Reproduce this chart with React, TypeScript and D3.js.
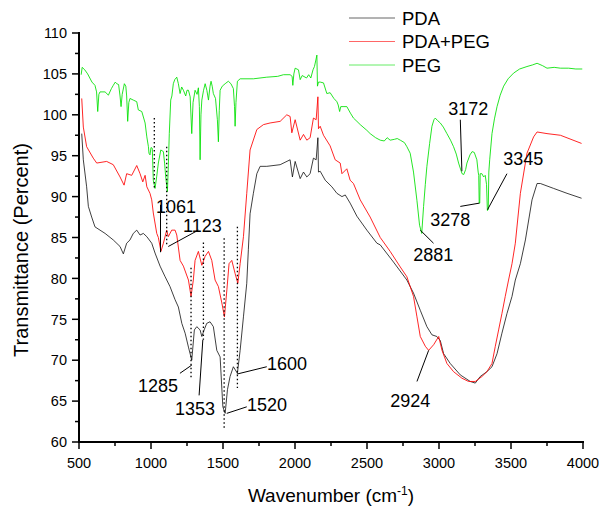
import React, { useEffect, useRef } from "react";
import * as d3 from "d3";

const xTicks = [500, 1000, 1500, 2000, 2500, 3000, 3500, 4000];
const yTicks = [60, 65, 70, 75, 80, 85, 90, 95, 100, 105, 110];
const seriesNames = ["PDA", "PDA+PEG", "PEG"];

const pda: [number, number][] = [
  [519, 97.7], [530, 94.5], [553, 91.2], [565, 88.8], [588, 87.5], [611, 86.3], [681, 85.5], [738, 84.7],
  [785, 83.9], [808, 83.0], [831, 84.3], [854, 84.7], [877, 85.5], [901, 85.9], [924, 85.3], [947, 85.5],
  [971, 85.1], [1005, 84.3], [1028, 83.1], [1063, 81.5], [1098, 80.2], [1132, 79.0], [1167, 77.4],
  [1190, 76.5], [1214, 74.5], [1237, 73.3], [1260, 71.6], [1283, 70.0], [1301, 73.7], [1318, 74.1],
  [1341, 73.7], [1353, 72.9], [1369, 73.7], [1387, 74.5], [1410, 74.7], [1433, 74.1], [1457, 71.2],
  [1480, 70.4], [1499, 64.3], [1515, 63.5], [1531, 66.4], [1549, 68.0], [1572, 69.2], [1600, 68.4],
  [1619, 71.2], [1642, 75.3], [1665, 79.4], [1676, 83.5], [1688, 87.9], [1711, 90.4], [1735, 92.8],
  [1758, 93.7], [1804, 93.7], [1897, 93.9], [1966, 94.5], [1982, 92.4], [2001, 94.3], [2036, 92.2],
  [2059, 93.0], [2082, 92.4], [2105, 92.8], [2128, 94.7], [2147, 94.5], [2159, 97.2], [2163, 93.0],
  [2175, 93.1], [2210, 92.0], [2256, 91.2], [2291, 90.4], [2326, 90.0], [2349, 90.2], [2383, 89.2],
  [2430, 87.6], [2499, 85.9], [2569, 84.3], [2592, 84.1], [2684, 82.0], [2777, 79.8], [2823, 78.2],
  [2870, 76.1], [2916, 74.1], [2951, 73.1], [2985, 72.9], [3009, 72.4], [3032, 70.8], [3078, 69.6],
  [3148, 68.2], [3217, 67.4], [3252, 67.2], [3286, 68.0], [3333, 68.6], [3368, 69.2], [3403, 70.8],
  [3437, 73.3], [3472, 75.7], [3507, 77.8], [3530, 79.8], [3565, 81.8], [3600, 84.7], [3646, 89.6],
  [3681, 91.6], [3704, 91.6], [3796, 91.0], [3889, 90.4], [3990, 89.8],
];

const pdaPeg: [number, number][] = [
  [519, 102.0], [530, 98.5], [553, 96.1], [599, 94.7], [623, 94.1], [692, 94.3], [738, 93.9], [785, 92.4],
  [813, 91.4], [831, 92.8], [866, 92.6], [901, 93.8], [924, 92.8], [943, 91.8], [959, 92.6], [971, 91.2],
  [993, 90.4], [1005, 89.6], [1016, 88.0], [1040, 85.5], [1051, 85.0], [1069, 83.3], [1086, 84.3],
  [1109, 85.9], [1120, 85.1], [1144, 85.9], [1167, 85.9], [1179, 85.3], [1202, 82.2], [1225, 81.5],
  [1260, 79.8], [1278, 77.8], [1294, 79.8], [1306, 82.2], [1329, 83.3], [1353, 81.6], [1376, 82.7],
  [1399, 83.3], [1422, 82.2], [1445, 79.8], [1468, 79.0], [1492, 77.0], [1510, 75.3], [1527, 78.6],
  [1542, 81.8], [1561, 82.2], [1584, 80.6], [1603, 79.4], [1619, 81.8], [1642, 85.1], [1665, 90.4],
  [1688, 95.7], [1735, 98.2], [1781, 98.8], [1827, 99.0], [1897, 99.2], [1943, 100.0], [1966, 99.8],
  [1978, 97.8], [2001, 99.4], [2036, 96.9], [2059, 97.6], [2082, 96.9], [2105, 97.2], [2128, 99.6],
  [2147, 99.4], [2159, 102.2], [2163, 98.3], [2175, 98.6], [2198, 97.5], [2244, 96.2], [2279, 94.5],
  [2314, 94.1], [2326, 92.8], [2360, 93.4], [2383, 92.0], [2406, 91.6], [2453, 89.6], [2522, 87.5],
  [2592, 85.0], [2661, 83.3], [2731, 81.4], [2777, 80.2], [2823, 77.8], [2847, 75.3], [2870, 72.9],
  [2905, 71.7], [2928, 71.2], [2963, 71.9], [2998, 72.9], [3021, 71.2], [3055, 69.6], [3101, 68.6],
  [3159, 67.8], [3205, 67.4], [3252, 67.4], [3298, 68.0], [3333, 68.6], [3368, 69.6], [3391, 71.7],
  [3414, 73.7], [3437, 75.7], [3460, 77.8], [3483, 79.8], [3507, 81.8], [3530, 84.3], [3565, 90.4],
  [3611, 95.3], [3657, 97.3], [3681, 97.9], [3750, 97.7], [3843, 97.5], [3990, 96.5],
];

const peg: [number, number][] = [
  [515, 104.9], [522, 105.8], [540, 105.5], [560, 105.0], [590, 104.0], [611, 103.6], [622, 102.8],
  [630, 100.4], [638, 102.5], [646, 102.8], [681, 102.8], [704, 102.4], [725, 103.2], [738, 103.6],
  [752, 104.0], [762, 103.8], [775, 103.7], [785, 102.3], [792, 101.0], [800, 102.5], [815, 103.8],
  [825, 103.5], [831, 102.3], [838, 99.2], [846, 101.5], [854, 102.0], [877, 101.8], [901, 101.6],
  [912, 100.6], [936, 100.4], [959, 99.0], [971, 97.3], [982, 96.1], [986, 95.3], [993, 95.1],
  [1000, 96.0], [1009, 95.9], [1016, 92.0], [1028, 91.0], [1040, 92.5], [1051, 94.1], [1068, 95.7],
  [1086, 95.5], [1095, 94.0], [1102, 92.4], [1114, 90.6], [1120, 93.5], [1127, 97.7], [1137, 101.8],
  [1145, 102.3], [1155, 103.8], [1165, 104.3], [1179, 104.6], [1190, 103.8], [1202, 102.6],
  [1213, 103.4], [1225, 103.0], [1241, 102.3], [1250, 103.0], [1260, 103.0], [1272, 102.2],
  [1283, 97.7], [1292, 101.5], [1306, 103.0], [1320, 102.5], [1329, 103.3], [1336, 101.0],
  [1341, 94.5], [1347, 100.0], [1353, 101.8], [1365, 103.0], [1376, 103.8], [1388, 103.0],
  [1399, 101.8], [1410, 103.5], [1417, 104.1], [1425, 103.5], [1433, 102.6], [1448, 102.0],
  [1461, 99.4], [1468, 96.7], [1474, 100.5], [1480, 103.0], [1495, 103.5], [1515, 103.8],
  [1537, 104.1], [1555, 103.8], [1572, 103.2], [1580, 101.0], [1584, 98.6], [1590, 101.5],
  [1600, 104.1], [1619, 104.4], [1711, 104.4], [1804, 104.6], [1880, 104.7], [1920, 104.9],
  [1966, 104.9], [1980, 104.7], [1985, 103.6], [1992, 105.0], [2001, 105.7], [2024, 105.5],
  [2036, 104.3], [2050, 104.8], [2080, 104.5], [2095, 104.9], [2110, 104.5], [2125, 105.5],
  [2135, 105.9], [2145, 106.7], [2152, 107.3], [2156, 103.5], [2163, 104.0], [2175, 104.0],
  [2198, 103.9], [2221, 102.6], [2244, 102.7], [2270, 102.0], [2291, 101.6], [2300, 101.2],
  [2310, 100.4], [2318, 101.0], [2340, 101.0], [2360, 101.0], [2385, 100.2], [2406, 99.6],
  [2430, 99.2], [2453, 98.8], [2499, 98.1], [2522, 97.7], [2560, 97.2], [2592, 96.9], [2620, 96.8],
  [2640, 97.2], [2661, 96.9], [2690, 97.0], [2710, 97.1], [2731, 96.9], [2760, 96.6], [2777, 96.1],
  [2800, 95.3], [2823, 93.0], [2847, 89.5], [2865, 86.5], [2880, 85.5], [2893, 88.8], [2905, 91.5],
  [2916, 93.7], [2935, 96.5], [2951, 98.6], [2965, 99.4], [2974, 99.6], [2990, 99.3], [3009, 99.0],
  [3030, 98.5], [3055, 97.7], [3080, 96.9], [3101, 96.1], [3120, 95.2], [3136, 94.1], [3160, 92.8],
  [3172, 92.7], [3185, 93.3], [3194, 94.1], [3215, 95.1], [3230, 95.5], [3245, 95.4], [3263, 94.5],
  [3272, 93.0], [3276, 92.6], [3279, 89.2], [3283, 89.2], [3286, 92.8], [3298, 92.8], [3310, 92.4],
  [3321, 92.6], [3330, 91.5], [3336, 88.3], [3342, 88.4], [3346, 93.0], [3352, 94.5], [3368, 97.7],
  [3385, 99.5], [3403, 101.0], [3425, 102.4], [3449, 103.5], [3480, 104.4], [3518, 105.1],
  [3560, 105.6], [3611, 105.9], [3650, 106.1], [3681, 106.3], [3720, 106.0], [3750, 105.7],
  [3800, 105.8], [3843, 105.7], [3900, 105.7], [3950, 105.6], [3995, 105.6],
];

// dotted guide lines: wavenumber, top, bottom (Transmittance)
const guideX = [1023, 1109, 1278, 1364, 1508, 1600];
const guideTop = [99.6, 96.1, 81.3, 84.4, 84.9, 86.3];
const guideBottom = [90.8, 84.0, 67.9, 72.5, 61.5, 66.6];

// peak labels and leader lines (data coordinates)
const peakLabels = ["1061", "1123", "1285", "1353", "1520", "1600", "2881", "2924", "3172", "3278", "3345"];
const labelPos: [number, number][] = [
  [1035, 88.0], [1223, 85.7], [1188, 66.1], [1167, 63.3], [1667, 63.8], [1806, 68.8],
  [2821, 82.1], [2661, 64.3], [3064, 100.0], [2939, 86.4], [3446, 93.9],
];
const labelAnchor = ["start", "start", "end", "start", "start", "start", "start", "start", "start", "start", "start"];
const leaderFrom: [number, number][] = [
  [1066, 83.2], [1120, 83.9], [1283, 69.4], [1360, 72.5], [1526, 63.5], [1596, 68.3],
  [2870, 85.9], [2928, 71.2], [3159, 93.1], [3280, 89.2], [3337, 88.4],
];
const leaderTo: [number, number][] = [
  [1066, 89.0], [1329, 85.9], [1201, 68.4], [1334, 65.7], [1665, 64.3], [1804, 69.2],
  [2962, 84.3], [2847, 67.4], [3148, 99.4], [3148, 88.8], [3472, 92.8],
];

const colors = ["#000000", "#ff0000", "#00e000"];
const FONT = "'Liberation Sans', Arial, sans-serif";

export default function App() {
  const ref = useRef<SVGSVGElement | null>(null);

  useEffect(() => {
    document.body.style.margin = "0";
    const svg = d3.select(ref.current);
    svg.selectAll("*").remove();

    const x = d3.scaleLinear().domain([500, 4000]).range([79, 583]);
    const y = d3.scaleLinear().domain([60, 110]).range([442, 33]);

    const g = svg.append("g");

    // series
    const line = d3
      .line<[number, number]>()
      .x((d) => x(d[0]))
      .y((d) => y(d[1]));
    const all = [pda, pdaPeg, peg];
    all.forEach((s, i) => {
      g.append("path")
        .attr("d", line(s) as string)
        .attr("fill", "none")
        .attr("stroke", colors[i])
        .attr("stroke-width", 1)
        .attr("stroke-opacity", i === 0 ? 0.75 : 0.85);
    });

    // dotted guides
    guideX.forEach((gx, i) => {
      g.append("line")
        .attr("x1", x(gx))
        .attr("x2", x(gx))
        .attr("y1", y(guideTop[i]))
        .attr("y2", y(guideBottom[i]))
        .attr("stroke", "#000")
        .attr("stroke-width", 1.3)
        .attr("stroke-dasharray", "1.5,2.5");
    });

    // leaders + labels
    peakLabels.forEach((lab, i) => {
      g.append("line")
        .attr("x1", x(leaderFrom[i][0]))
        .attr("y1", y(leaderFrom[i][1]))
        .attr("x2", x(leaderTo[i][0]))
        .attr("y2", y(leaderTo[i][1]))
        .attr("stroke", "#000")
        .attr("stroke-width", 1);
      g.append("text")
        .attr("x", x(labelPos[i][0]))
        .attr("y", y(labelPos[i][1]))
        .attr("text-anchor", labelAnchor[i])
        .attr("font-family", FONT)
        .attr("font-size", 18)
        .attr("fill", "#000")
        .text(lab);
    });

    // axes
    const xAxis = g.append("g");
    xAxis
      .append("line")
      .attr("x1", x(500) - 1)
      .attr("x2", x(4000) + 1)
      .attr("y1", y(60))
      .attr("y2", y(60))
      .attr("stroke", "#000")
      .attr("stroke-width", 2);
    const xMinor = d3.range(750, 4000, 500);
    xMinor.forEach((v) => {
      xAxis.append("line").attr("x1", x(v)).attr("x2", x(v)).attr("y1", y(60)).attr("y2", y(60) + 4)
        .attr("stroke", "#000").attr("stroke-width", 1.5);
    });
    xTicks.forEach((v) => {
      xAxis.append("line").attr("x1", x(v)).attr("x2", x(v)).attr("y1", y(60)).attr("y2", y(60) + 7)
        .attr("stroke", "#000").attr("stroke-width", 1.5);
      xAxis.append("text").attr("x", x(v)).attr("y", y(60) + 26).attr("text-anchor", "middle")
        .attr("font-family", FONT).attr("font-size", 14.5).text(String(v));
    });

    const yAxis = g.append("g");
    yAxis
      .append("line")
      .attr("x1", x(500))
      .attr("x2", x(500))
      .attr("y1", y(60) + 1)
      .attr("y2", y(110) - 1)
      .attr("stroke", "#000")
      .attr("stroke-width", 2);
    const yMinor = d3.range(62.5, 110, 5);
    yMinor.forEach((v) => {
      yAxis.append("line").attr("x1", x(500)).attr("x2", x(500) - 4).attr("y1", y(v)).attr("y2", y(v))
        .attr("stroke", "#000").attr("stroke-width", 1.5);
    });
    yTicks.forEach((v) => {
      yAxis.append("line").attr("x1", x(500)).attr("x2", x(500) - 7).attr("y1", y(v)).attr("y2", y(v))
        .attr("stroke", "#000").attr("stroke-width", 1.5);
      yAxis.append("text").attr("x", x(500) - 12).attr("y", y(v)).attr("dy", "0.36em")
        .attr("text-anchor", "end").attr("font-family", FONT).attr("font-size", 14.5).text(String(v));
    });

    // axis titles
    const xt = g.append("text").attr("x", 331).attr("y", 502).attr("text-anchor", "middle")
      .attr("font-family", FONT).attr("font-size", 19);
    xt.append("tspan").text("Wavenumber (cm");
    xt.append("tspan").attr("dy", -7).attr("font-size", 12).text("-1");
    xt.append("tspan").attr("dy", 7).text(")");

    g.append("text")
      .attr("transform", "translate(28,250) rotate(-90)")
      .attr("text-anchor", "middle")
      .attr("font-family", FONT)
      .attr("font-size", 20)
      .text("Transmittance (Percent)");

    // legend
    seriesNames.forEach((name, i) => {
      const ly = 18 + i * 23.5;
      g.append("line").attr("x1", 349).attr("x2", 395).attr("y1", ly).attr("y2", ly)
        .attr("stroke", colors[i]).attr("stroke-width", 1).attr("stroke-opacity", 0.6);
      g.append("text").attr("x", 402).attr("y", ly).attr("dy", "0.36em")
        .attr("font-family", FONT).attr("font-size", 18.5).text(name);
    });
  }, []);

  return (
    <svg
      ref={ref}
      width={599}
      height={509}
      style={{ display: "block", background: "#fff" }}
    />
  );
}
